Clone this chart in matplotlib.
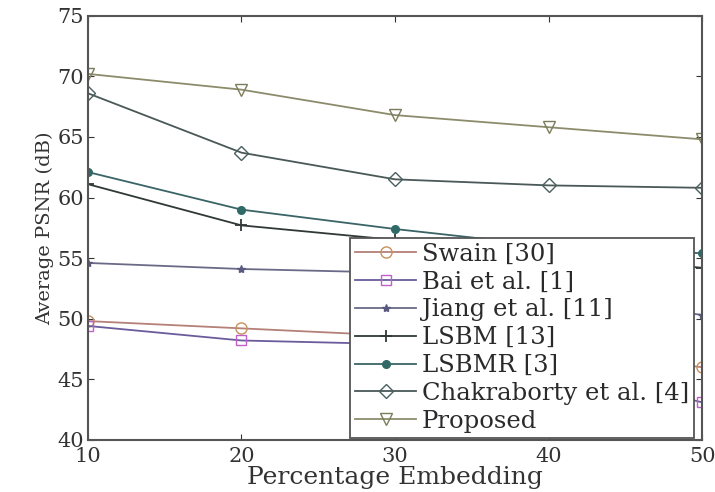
import matplotlib
matplotlib.use('Agg')
import matplotlib.pyplot as plt

# percentage embedding on x
x = [10, 20, 30, 40, 50]
labels = ['Swain [30]', 'Bai et al. [1]', 'Jiang et al. [11]', 'LSBM [13]',
          'LSBMR [3]', 'Chakraborty et al. [4]', 'Proposed']
swain = [49.8, 49.2, 48.6, 47.3, 46.0]
bai = [49.4, 48.2, 47.9, 46.0, 43.1]
jiang = [54.6, 54.1, 53.8, 52.2, 50.3]
lsbm = [61.1, 57.7, 56.5, 55.3, 54.2]
lsbmr = [62.1, 59.0, 57.4, 56.0, 55.4]
chakraborty = [68.6, 63.7, 61.5, 61.0, 60.8]
proposed = [70.2, 68.9, 66.8, 65.8, 64.8]

plt.rcParams['font.family'] = ['DejaVu Serif']
fig = plt.figure(figsize=(7.15, 4.92), dpi=100)
ax = fig.add_axes([0.123, 0.106, 0.859, 0.862])

ax.plot(x, swain, color='#b48078', marker='o', mfc='none', mec='#c8905a', ms=8, lw=1.3, label=labels[0])
ax.plot(x, bai, color='#6a5c9c', marker='s', mfc='none', mec='#c060c8', ms=7, lw=1.3, label=labels[1])
ax.plot(x, jiang, color='#6a6a88', marker='*', mfc='#5a5a80', mec='#5a5a80', ms=6, lw=1.3, label=labels[2])
ax.plot(x, lsbm, color='#303838', marker='+', mec='#303838', ms=8, mew=1.3, lw=1.3, label=labels[3])
ax.plot(x, lsbmr, color='#3a6466', marker='o', mfc='#2f6a66', mec='#2f6a66', ms=5.5, lw=1.3, label=labels[4])
ax.plot(x, chakraborty, color='#4a5858', marker='D', mfc='none', mec='#4a6060', ms=7, lw=1.3, label=labels[5])
ax.plot(x, proposed, color='#8c8c6c', marker='v', mfc='none', mec='#7c7c5c', ms=9, lw=1.3, label=labels[6])

ax.set_xlim(10, 50)
ax.set_ylim(40, 75)
ax.set_xticks(x)
ax.set_yticks(range(40, 76, 5))
ax.tick_params(direction='in', top=True, right=True, length=4, labelsize=15,
               colors='#333333', pad=3)
ax.tick_params(axis='x', pad=5)
for s in ax.spines.values():
    s.set_color('#555555')
    s.set_linewidth(1.5)

ax.set_xlabel('Percentage Embedding', fontsize=18, color='#333333', labelpad=0)
ax.set_ylabel('Average PSNR (dB)', fontsize=14, color='#333333', labelpad=2)

leg = ax.legend(loc='lower right', bbox_to_anchor=(0.987, 0.005), borderaxespad=0,
                fontsize=17.5, fancybox=False, edgecolor='#555555', framealpha=1,
                handlelength=2.5, handletextpad=0.25, labelspacing=0.2,
                borderpad=0.2)
leg.get_frame().set_linewidth(1.3)
for t in leg.get_texts():
    t.set_color('#2a2a2a')

fig.savefig('out.png', dpi=100)
